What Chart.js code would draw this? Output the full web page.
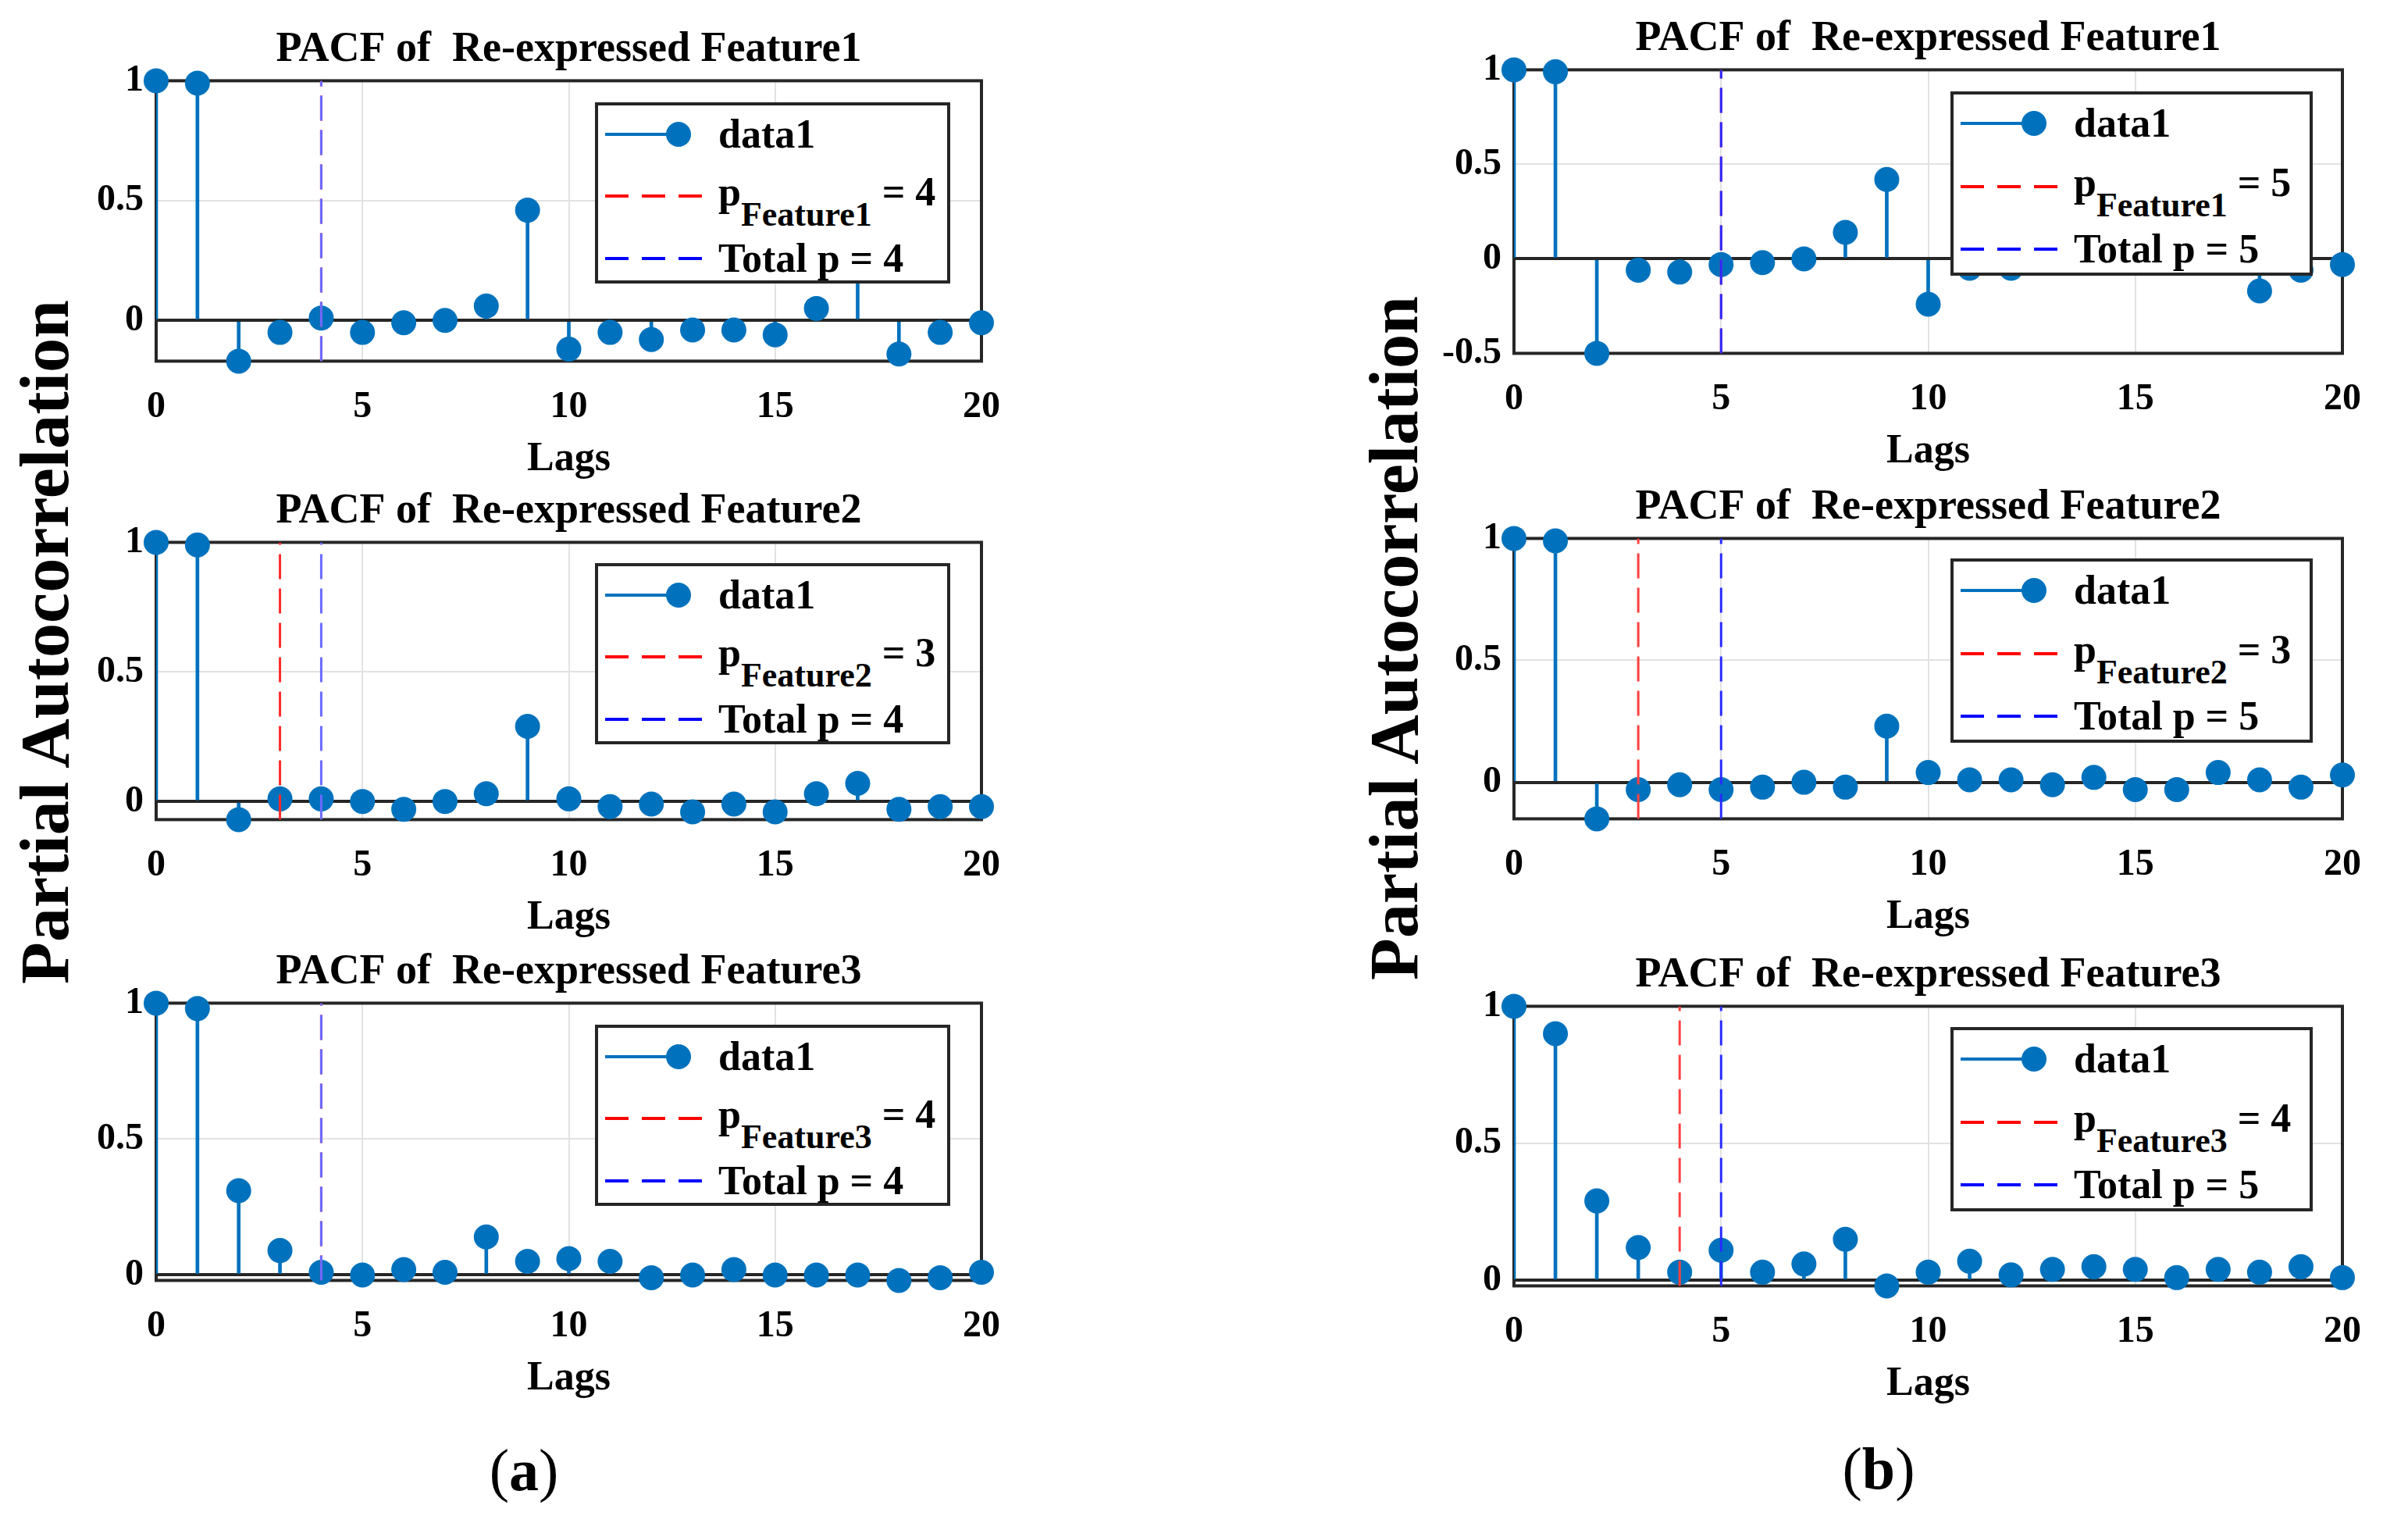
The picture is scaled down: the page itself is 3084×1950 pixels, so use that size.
<!DOCTYPE html>
<html>
<head>
<meta charset="utf-8">
<script src="https://cdn.jsdelivr.net/npm/chart.js@4.4.1/dist/chart.umd.min.js"></script>
<style>
  body { margin: 0; background: #fff; }
  #page { position: relative; width: 3084px; height: 1950px; background: #fff; overflow: hidden;
          font-family: 'Liberation Serif', 'Times New Roman', serif; color: #000; }
  .wrap { position: absolute; }
  .leg { position: absolute; background: #fff; border: 4px solid #262626; box-sizing: border-box; }
  .row { position: absolute; left: 9px; height: 0; display: flex; align-items: center; white-space: nowrap; }
  .row span.txt { font-weight: bold; font-size: 52px; line-height: 1; margin-left: 5px; }
  .row span.up { position: relative; top: -5px; }
  .sub { position: relative; top: 26px; font-size: 44px; }
  .ylab { position: absolute; font-weight: bold; font-size: 88px; white-space: nowrap;
          transform: translate(-50%, -50%) rotate(-90deg); }
  .cap { position: absolute; font-size: 76px; transform: translate(-50%, -50%); white-space: nowrap; }
</style>
</head>
<body>
<div id="page">
  <div class="ylab" style="left:57px; top:822px;">Partial Autocorrelation</div>
  <div class="ylab" style="left:1785px; top:817px;">Partial Autocorrelation</div>
  <div class="cap" style="left:671px; top:1882px;">(<b>a</b>)</div>
  <div class="cap" style="left:2406px; top:1880px;">(<b>b</b>)</div>
</div>
<script>
// lags on the x axis and the tick labels
const lags = [0, 1, 2, 3, 4, 5, 6, 7, 8, 9, 10, 11, 12, 13, 14, 15, 16, 17, 18, 19, 20];
const xTicks = [0, 5, 10, 15, 20];
const yTicksA = [0, 0.5, 1];
const yTicksB1 = [-0.5, 0, 0.5, 1];

// (a) partial autocorrelation of the three features
const pacfA1 = [1, 0.99, -0.17, -0.05, 0.01, -0.05, -0.01, 0, 0.06, 0.46, -0.12, -0.05, -0.08, -0.04, -0.04, -0.06, 0.05, 0.3, -0.14, -0.05, -0.01];
const pacfA2 = [1, 0.99, -0.07, 0.01, 0.01, 0, -0.03, 0, 0.03, 0.29, 0.01, -0.02, -0.01, -0.04, -0.01, -0.04, 0.03, 0.07, -0.03, -0.02, -0.02];
const pacfA3 = [1, 0.98, 0.31, 0.09, 0.01, 0, 0.02, 0.01, 0.14, 0.05, 0.06, 0.05, -0.01, 0, 0.02, 0, 0, 0, -0.02, -0.01, 0.01];
// (b)
const pacfB1 = [1, 0.99, -0.5, -0.06, -0.07, -0.03, -0.02, 0, 0.14, 0.42, -0.24, -0.05, -0.05, 0.02, 0.01, 0.03, 0, 0.02, -0.17, -0.06, -0.03];
const pacfB2 = [1, 0.99, -0.15, -0.03, -0.01, -0.03, -0.02, 0, -0.02, 0.23, 0.04, 0.01, 0.01, -0.01, 0.02, -0.03, -0.03, 0.04, 0.01, -0.02, 0.03];
const pacfB3 = [1, 0.9, 0.29, 0.12, 0.03, 0.11, 0.03, 0.06, 0.15, -0.02, 0.03, 0.07, 0.02, 0.04, 0.05, 0.04, 0.01, 0.04, 0.03, 0.05, 0.01];

// selected orders
const featureOrderA = [4, 3, 4];
const totalOrderA = 4;
const featureOrderB = [5, 3, 4];
const totalOrderB = 5;

const STEM = '#0072BD';
const DARK = '#262626';
const TITLE_BLOCK = 85.4;   // title padding + line height above plot
const X_AXIS_H = 160;
const Y_AXIS_W = 120;

Chart.defaults.font.family = "'Liberation Serif', 'Times New Roman', serif";
Chart.defaults.font.weight = 'bold';
Chart.defaults.color = '#000';

const boxPlugin = {
  id: 'box',
  beforeDatasetsDraw(chart) {
    const { ctx, chartArea: { left, top, right, bottom } } = chart;
    ctx.save();
    ctx.strokeStyle = DARK;
    ctx.lineWidth = 4;
    ctx.strokeRect(left, top, right - left, bottom - top);
    ctx.restore();
  }
};

const colA = { left: 200, right: 1257, legLeft: 762, legW: 455, legH: 232, blue: '#6a6aff', red: '#ff2a2a' };
const colB = { left: 1939, right: 3000, legLeft: 2498, legW: 464, legH: 236, blue: '#2a2aff', red: '#ff4040' };

const panels = [
  { col: colA, feature: 1, values: pacfA1, pF: featureOrderA[0], pT: totalOrderA, yTicks: yTicksA, top: 103, bottom: 462, legTop: 131 },
  { col: colA, feature: 2, values: pacfA2, pF: featureOrderA[1], pT: totalOrderA, yTicks: yTicksA, top: 694, bottom: 1049, legTop: 721 },
  { col: colA, feature: 3, values: pacfA3, pF: featureOrderA[2], pT: totalOrderA, yTicks: yTicksA, top: 1284, bottom: 1639, legTop: 1312 },
  { col: colB, feature: 1, values: pacfB1, pF: featureOrderB[0], pT: totalOrderB, yTicks: yTicksB1, top: 89, bottom: 452, legTop: 117 },
  { col: colB, feature: 2, values: pacfB2, pF: featureOrderB[1], pT: totalOrderB, yTicks: yTicksA, top: 689, bottom: 1048, legTop: 715 },
  { col: colB, feature: 3, values: pacfB3, pF: featureOrderB[2], pT: totalOrderB, yTicks: yTicksA, top: 1288, bottom: 1646, legTop: 1315 }
];

const page = document.getElementById('page');

function makeLegend(p) {
  const c = p.col;
  const leg = document.createElement('div');
  leg.className = 'leg';
  leg.style.left = c.legLeft + 'px';
  leg.style.top = p.legTop + 'px';
  leg.style.width = c.legW + 'px';
  leg.style.height = c.legH + 'px';
  const rowY = c.legH === 232 ? [37, 116, 196] : [37, 118, 198];
  leg.innerHTML =
    '<div class="row" style="top:' + rowY[0] + 'px">' +
      '<svg width="140" height="40"><line x1="0" y1="20" x2="94" y2="20" stroke="' + STEM + '" stroke-width="4"/>' +
      '<circle cx="94" cy="20" r="16" fill="' + STEM + '"/></svg>' +
      '<span class="txt">data1</span></div>' +
    '<div class="row" style="top:' + rowY[1] + 'px">' +
      '<svg width="140" height="40"><line x1="0" y1="20" x2="140" y2="20" stroke="#ff0000" stroke-width="4" stroke-dasharray="30 17"/></svg>' +
      '<span class="txt up">p<span class="sub">Feature' + p.feature + '</span> = ' + p.pF + '</span></div>' +
    '<div class="row" style="top:' + rowY[2] + 'px">' +
      '<svg width="140" height="40"><line x1="0" y1="20" x2="140" y2="20" stroke="#0000ff" stroke-width="4" stroke-dasharray="30 17"/></svg>' +
      '<span class="txt">Total p = ' + p.pT + '</span></div>';
  page.appendChild(leg);
}

panels.forEach(function (p) {
  const c = p.col;
  const yMin = Math.min(...p.values);
  const wrap = document.createElement('div');
  wrap.className = 'wrap';
  wrap.style.left = (c.left - Y_AXIS_W) + 'px';
  wrap.style.top = (p.top - TITLE_BLOCK) + 'px';
  wrap.style.width = (c.right - c.left + 2 * Y_AXIS_W) + 'px';
  wrap.style.height = (TITLE_BLOCK + p.bottom - p.top + X_AXIS_H) + 'px';
  const canvas = document.createElement('canvas');
  wrap.appendChild(canvas);
  page.appendChild(wrap);

  new Chart(canvas.getContext('2d'), {
    type: 'scatter',
    data: {
      datasets: [
        {
          label: 'Total p',
          data: [{ x: p.pT, y: yMin }, { x: p.pT, y: 1 }],
          showLine: true,
          borderColor: c.blue,
          borderWidth: 3,
          borderDash: [32, 12],
          pointRadius: 0,
          order: 0
        },
        {
          label: 'p feature',
          data: [{ x: p.pF, y: yMin }, { x: p.pF, y: 1 }],
          showLine: true,
          borderColor: c.red,
          borderWidth: 3,
          borderDash: [32, 12],
          pointRadius: 0,
          order: 1
        },
        {
          label: 'data1',
          data: lags.map((l, i) => ({ x: l, y: p.values[i] })),
          pointRadius: 16,
          pointBackgroundColor: STEM,
          pointBorderWidth: 0,
          clip: false,
          order: 2
        },
        {
          type: 'bar',
          label: 'stems',
          data: lags.map((l, i) => ({ x: l, y: [0, p.values[i]] })),
          backgroundColor: STEM,
          barThickness: 4,
          borderWidth: 0,
          order: 3
        }
      ]
    },
    options: {
      responsive: true,
      maintainAspectRatio: false,
      animation: false,
      layout: { padding: { left: 0, right: Y_AXIS_W, top: 0, bottom: 0 } },
      plugins: {
        legend: { display: false },
        tooltip: { enabled: false },
        title: {
          display: true,
          fullSize: false,
          text: 'PACF of  Re-expressed Feature' + p.feature,
          color: '#000',
          font: { size: 54, weight: 'bold', lineHeight: 1.2 },
          padding: { top: 14, bottom: 6.6 }
        }
      },
      scales: {
        x: {
          type: 'linear',
          min: 0,
          max: 20,
          offset: false,
          afterFit: s => { s.height = X_AXIS_H; },
          afterBuildTicks: s => { s.ticks = xTicks.map(v => ({ value: v })); },
          border: { display: false },
          grid: { color: '#e2e2e2', lineWidth: 2, drawTicks: false, offset: false },
          ticks: { font: { size: 48, weight: 'bold' }, padding: 30, maxRotation: 0 },
          title: {
            display: true,
            text: 'Lags',
            font: { size: 52, weight: 'bold', lineHeight: 1.2 },
            padding: { top: 0, bottom: 3 }
          }
        },
        y: {
          type: 'linear',
          min: yMin,
          max: 1,
          afterFit: s => { s.width = Y_AXIS_W; },
          afterBuildTicks: s => { s.ticks = p.yTicks.map(v => ({ value: v })); },
          border: { display: false },
          grid: {
            drawTicks: false,
            color: ctx => ctx.tick && ctx.tick.value === 0 ? DARK : '#e2e2e2',
            lineWidth: ctx => ctx.tick && ctx.tick.value === 0 ? 4 : 2
          },
          ticks: {
            font: { size: 48, weight: 'bold' },
            padding: 16,
            callback: v => String(v)
          }
        }
      }
    },
    plugins: [boxPlugin]
  });

  makeLegend(p);
});
</script>
</body>
</html>
